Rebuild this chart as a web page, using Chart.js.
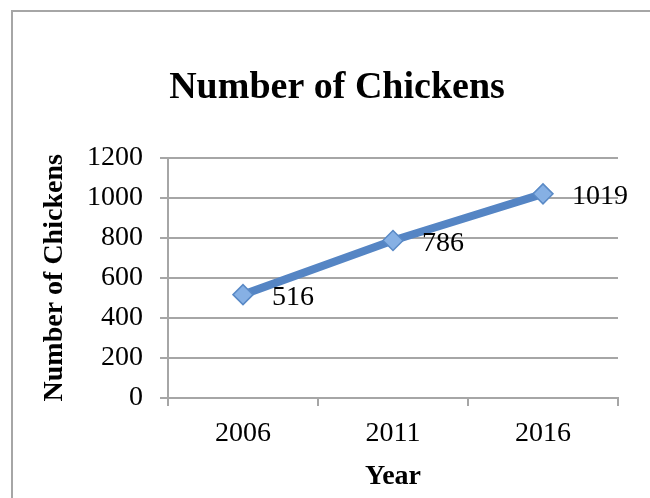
<!DOCTYPE html>
<html>
<head>
<meta charset="utf-8">
<script src="https://cdn.jsdelivr.net/npm/chart.js@4.4.1/dist/chart.umd.min.js"></script>
<style>
html, body { margin: 0; padding: 0; background: #fff; overflow: hidden; }
#frame { position: absolute; left: 11px; top: 10px; width: 639px; height: 488px; border-left: 2px solid #a6a6a6; border-top: 2px solid #a6a6a6; box-sizing: border-box; }
#wrap { position: absolute; left: 0; top: 0; width: 650px; height: 498px; }
</style>
</head>
<body>
<div id="frame"></div>
<div id="wrap"><canvas id="chart" width="650" height="498"></canvas></div>
<script>
// chart data
const years = ['2006', '2011', '2016']
const chickens = [516, 786, 1019]
const yTicks = [0, 200, 400, 600, 800, 1000, 1200]

const serif = '"Liberation Serif", "Times New Roman", serif'
const gridGray = '#a6a6a6'

// value labels to the right of each point
const valueLabels = {
    id: 'valueLabels',
    afterDatasetsDraw(chart) {
        const ctx = chart.ctx
        const meta = chart.getDatasetMeta(0)
        ctx.save()
        ctx.font = '28px ' + serif
        ctx.fillStyle = '#000'
        ctx.textAlign = 'left'
        ctx.textBaseline = 'middle'
        meta.data.forEach((pt, i) => {
            ctx.fillText(String(chickens[i]), pt.x + 29, pt.y + 3)
        })
        ctx.restore()
    }
}

const ctx = document.getElementById('chart').getContext('2d')
new Chart(ctx, {
    type: 'line',
    data: {
        labels: years,
        datasets: [{
            label: 'Number of Chickens',
            data: chickens,
            borderColor: '#5585c4',
            borderWidth: 8,
            tension: 0,
            pointStyle: 'rectRot',
            pointRadius: 10,
            pointBackgroundColor: '#86b0e4',
            pointBorderColor: '#5a8ac6',
            pointBorderWidth: 1.5
        }]
    },
    options: {
        responsive: false,
        animation: false,
        devicePixelRatio: 1,
        layout: { padding: { left: 24, right: 0, top: 0, bottom: 0 } },
        plugins: {
            legend: { display: false },
            tooltip: { enabled: false },
            title: {
                display: true,
                text: 'Number of Chickens',
                color: '#000',
                font: { family: serif, size: 38, weight: 'bold', lineHeight: 1.2 },
                padding: { top: 65, bottom: 47 }
            }
        },
        scales: {
            x: {
                offset: true,
                grid: { offset: true, drawOnChartArea: false, drawTicks: true, tickLength: 8, color: gridGray, lineWidth: 2 },
                border: { display: true, color: gridGray, width: 2 },
                ticks: { color: '#000', font: { family: serif, size: 28 }, padding: 11 },
                title: { display: true, text: 'Year', color: '#000', font: { family: serif, size: 28, weight: 'bold', lineHeight: 1.2 }, padding: { top: 0, bottom: 4 } },
                afterFit(s) { s.height = 100 }
            },
            y: {
                min: 0,
                max: 1200,
                afterBuildTicks(s) { s.ticks = yTicks.map(v => ({ value: v })) },
                grid: { color: gridGray, lineWidth: 2, tickLength: 8 },
                border: { display: true, color: gridGray, width: 2 },
                ticks: { color: '#000', font: { family: serif, size: 28 }, padding: 17, callback: v => String(v) },
                title: { display: true, text: 'Number of Chickens', color: '#000', font: { family: serif, size: 28, weight: 'bold', lineHeight: 1.2 }, padding: { top: 14, bottom: 0 } },
                afterFit(s) { s.width = 144 }
            },
            yRight: {
                position: 'right',
                display: true,
                grid: { display: false },
                border: { display: false },
                ticks: { display: false },
                afterFit(s) { s.width = 32 }
            }
        }
    },
    plugins: [valueLabels]
})
</script>
</body>
</html>
